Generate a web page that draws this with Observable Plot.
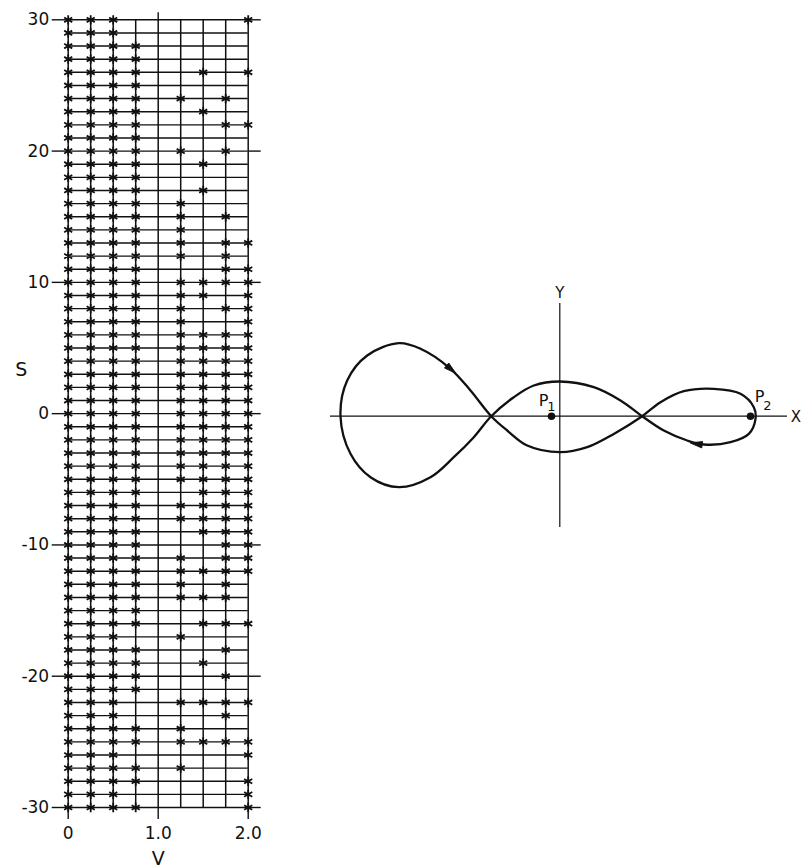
<!DOCTYPE html>
<html><head><meta charset="utf-8">
<script src="https://cdn.jsdelivr.net/npm/d3@7"></script>
<script src="https://cdn.jsdelivr.net/npm/@observablehq/plot@0.6"></script>
<style>
body{margin:0;background:#fff;width:801px;height:868px;position:relative;overflow:hidden;}
#left{position:absolute;left:0;top:0;}
#right{position:absolute;left:320px;top:270px;}
</style></head><body>
<div id="left"></div><div id="right"></div>
<script>
// ---------- Left panel: V–S grid ----------
const vColumns = [0, 0.25, 0.5, 0.75, 1.0, 1.25, 1.5, 1.75, 2.0];
const sGridRows = [30,29,28,27,26,25,24,23,22,21,20,19,18,17,16,15,14,13,12,11,10,9,8,7,6,5,4,3,2,1,0,-1,-2,-3,-4,-5,-6,-7,-8,-9,-10,-11,-12,-13,-14,-15,-16,-17,-18,-19,-20,-21,-22,-23,-24,-25,-26,-27,-28,-29,-30];
const sTicks = [-30, -20, -10, 0, 10, 20, 30];
const sTickLabels = ["-30", "-20", "-10", "0", "10", "20", "30"];
const vTicks = [0, 1, 2];
const vTickLabels = ["0", "1.0", "2.0"];

// S values carrying an asterisk, per V column
const starsAtV000 = [30,29,28,27,26,25,24,23,22,21,20,19,18,17,16,15,14,13,12,11,10,9,8,7,6,5,4,3,2,1,0,-1,-2,-3,-4,-5,-6,-7,-8,-9,-10,-11,-12,-13,-14,-15,-16,-17,-18,-19,-20,-21,-22,-23,-24,-25,-26,-27,-28,-29,-30];
const starsAtV025 = [30,29,28,27,26,25,24,23,22,21,20,19,18,17,16,15,14,13,12,11,10,9,8,7,6,5,4,3,2,1,0,-1,-2,-3,-4,-5,-6,-7,-8,-9,-10,-11,-12,-13,-14,-15,-16,-17,-18,-19,-20,-21,-22,-23,-24,-25,-26,-27,-28,-29,-30];
const starsAtV050 = [30,29,28,27,26,25,24,23,22,21,20,19,18,17,16,15,14,13,12,11,10,9,8,7,6,5,4,3,2,1,0,-1,-2,-3,-4,-5,-6,-7,-8,-9,-10,-11,-12,-13,-14,-15,-16,-17,-18,-19,-20,-21,-22,-23,-24,-25,-26,-27,-28,-29,-30];
const starsAtV075 = [28,27,26,25,24,23,22,21,20,19,18,17,16,15,14,13,12,11,10,9,8,7,6,5,4,3,2,1,0,-1,-2,-3,-4,-5,-6,-7,-8,-9,-10,-11,-12,-13,-14,-15,-16,-18,-19,-20,-21,-24,-25,-27,-28,-30];
const starsAtV100 = [];
const starsAtV125 = [24,20,16,15,14,13,12,10,9,8,7,6,5,4,3,2,1,0,-1,-2,-3,-4,-5,-7,-8,-11,-12,-13,-14,-17,-22,-24,-25,-27];
const starsAtV150 = [26,23,19,17,10,9,6,5,4,3,2,1,0,-1,-2,-3,-4,-5,-6,-7,-8,-9,-12,-14,-16,-19,-22,-25];
const starsAtV175 = [24,22,20,15,13,12,11,10,8,6,5,4,3,2,1,0,-1,-2,-3,-4,-5,-6,-7,-8,-9,-10,-11,-12,-13,-14,-16,-18,-20,-22,-23,-25];
const starsAtV200 = [30,26,22,13,11,10,9,8,7,6,5,4,3,2,1,0,-1,-2,-3,-4,-5,-6,-7,-8,-9,-10,-11,-12,-16,-22,-25,-26,-28,-29,-30];

const starColumns = [starsAtV000, starsAtV025, starsAtV050, starsAtV075, starsAtV100, starsAtV125, starsAtV150, starsAtV175, starsAtV200];
const stars = [];
starColumns.forEach((col, i) => col.forEach(s => stars.push({v: vColumns[i], s})));

const font = "'DejaVu Sans', sans-serif";
const ink = "#111";

const left = Plot.plot({
  width: 280, height: 868,
  marginLeft: 67.7, marginRight: 32.3, marginTop: 19.3, marginBottom: 61,
  x: {domain: [0, 2]},
  y: {domain: [-30, 30]},
  style: {fontFamily: font, fontSize: "17px", color: ink, background: "white", overflow: "visible"},
  marks: [
    Plot.ruleX(vColumns, {y1: -30, y2: 30, stroke: ink, strokeWidth: 1.5}),
    Plot.ruleY(sGridRows, {x1: 0, x2: 2, stroke: ink, strokeWidth: 1.4}),
    Plot.axisY(sTicks, {anchor: "left", tickSize: 16, tickPadding: 3, label: null, strokeWidth: 1.4,
      tickFormat: d => sTickLabels[sTicks.indexOf(d)]}),
    Plot.axisY(sTicks, {anchor: "right", tickSize: 12, tickFormat: () => "", label: null, strokeWidth: 1.4}),
    Plot.axisX([1], {anchor: "top", tickSize: 8, tickFormat: () => "", label: null, strokeWidth: 1.4}),
    Plot.axisX(vTicks, {anchor: "bottom", tickSize: 12, tickPadding: 7, label: null, strokeWidth: 1.4,
      tickFormat: d => vTickLabels[vTicks.indexOf(d)]}),
    Plot.dot(stars, {x: "v", y: "s", symbol: "asterisk", r: 4.4, stroke: ink, strokeWidth: 1.8}),
    Plot.text(["S"], {y: [3.3], frameAnchor: "left", dx: -53, fontSize: 19}),
    Plot.text(["V"], {x: [1], frameAnchor: "bottom", dy: 57, fontSize: 19})
  ]
});
document.getElementById("left").append(left);

// ---------- Right panel: orbit in the X–Y plane ----------
const orbitX = [-1.61,-1.393,-1.093,-0.893,-0.686,-0.526,-0.326,0,0.274,0.54,0.824,1.007,1.24,1.54,1.807,1.94,1.957,1.89,1.707,1.44,1.274,1.04,0.824,0.607,0.34,0,-0.26,-0.46,-0.686,-0.86,-1.06,-1.293,-1.61,-1.893,-2.093,-2.193,-2.126,-1.926];
const orbitY = [0.73,0.674,0.474,0.257,0,-0.143,-0.293,-0.36,-0.31,-0.177,0,0.14,0.25,0.274,0.224,0.09,-0.026,-0.177,-0.26,-0.283,-0.243,-0.143,0,0.157,0.29,0.347,0.307,0.19,0,-0.21,-0.41,-0.61,-0.71,-0.61,-0.376,0,0.357,0.607];
const orbit = orbitX.map((x, i) => ({x, y: orbitY[i]}));

const arrowX = [-1.093, 1.374];
const arrowY = [0.474, -0.278];
const arrowAngle = [130, 278];
const arrows = arrowX.map((x, i) => ({x, y: arrowY[i], a: arrowAngle[i]}));

const primaryNames = ["1", "2"];
const primaryX = [-0.083, 1.907];
const primaryY = [0, 0];
const primaries = primaryX.map((x, i) => ({x, y: primaryY[i], n: primaryNames[i]}));

const xAxisExtent = [-2.293, 2.277];
const yAxisExtent = [-1.113, 1.127];
const axisLabels = [{t: "X", x: 2.36, y: -0.01}, {t: "Y", x: 0, y: 1.23}];

const arrowSymbol = {
  draw(context, size) {
    const r = Math.sqrt(size / Math.PI);
    context.moveTo(0, -1.5 * r);
    context.lineTo(0.72 * r, 1.1 * r);
    context.lineTo(-0.72 * r, 1.1 * r);
    context.closePath();
  }
};

const right = Plot.plot({
  width: 480, height: 270, margin: 0,
  x: {domain: [-2.393, 2.407], axis: null},
  y: {domain: [-1.243, 1.457], axis: null},
  style: {fontFamily: font, color: ink, background: "transparent", overflow: "visible"},
  marks: [
    Plot.ruleY([0], {x1: xAxisExtent[0], x2: xAxisExtent[1], stroke: ink, strokeWidth: 1.2}),
    Plot.ruleX([0], {y1: yAxisExtent[0], y2: yAxisExtent[1], stroke: ink, strokeWidth: 1.2}),
    Plot.line(orbit, {x: "x", y: "y", curve: "catmull-rom-closed", stroke: ink, strokeWidth: 2.3}),
    Plot.dot(arrows, {x: "x", y: "y", rotate: "a", symbol: arrowSymbol, r: 4.6, fill: ink, stroke: ink, strokeWidth: 0.8}),
    Plot.dot(primaries, {x: "x", y: "y", r: 3.8, fill: ink}),
    Plot.text(primaries, {x: "x", y: "y", text: () => "P", dx: -8, dy: -15, fontSize: 16, filter: d => d.n === "1"}),
    Plot.text(primaries, {x: "x", y: "y", text: "n", dx: 0, dy: -9, fontSize: 13, filter: d => d.n === "1"}),
    Plot.text(primaries, {x: "x", y: "y", text: () => "P", dx: 9, dy: -19, fontSize: 16, filter: d => d.n === "2"}),
    Plot.text(primaries, {x: "x", y: "y", text: "n", dx: 17, dy: -10, fontSize: 13, filter: d => d.n === "2"}),
    Plot.text(axisLabels, {x: "x", y: "y", text: "t", fontSize: 15})
  ]
});
document.getElementById("right").append(right);
</script>
</body></html>
